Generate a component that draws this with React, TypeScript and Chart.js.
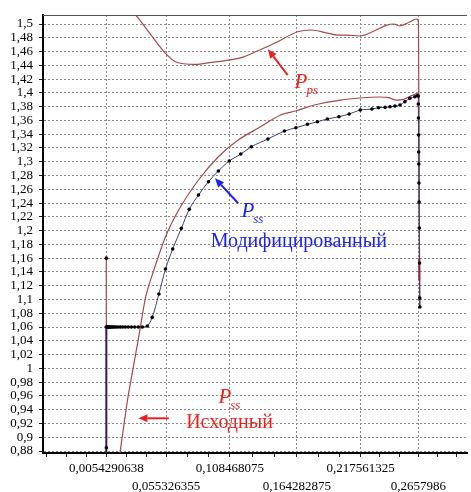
import React, { useEffect, useRef } from "react";
import { Chart, registerables } from "chart.js";

Chart.register(...registerables);

// ---------- data ----------
const xMajorTicks = [0.0054290638, 0.055326355, 0.108468075, 0.164282875, 0.217561325, 0.2657986];
const xTickLabels = ["0,0054290638", "0,055326355", "0,108468075", "0,164282875", "0,217561325", "0,2657986"];
const yTickValues = [
  0.88, 0.9, 0.92, 0.94, 0.96, 0.98, 1.0, 1.02, 1.04, 1.06, 1.08, 1.1, 1.12, 1.14, 1.16, 1.18, 1.2,
  1.22, 1.24, 1.26, 1.28, 1.3, 1.32, 1.34, 1.36, 1.38, 1.4, 1.42, 1.44, 1.46, 1.48, 1.5,
];

// P_ps curve
const ppsX = [0.0300, 0.0370, 0.0437, 0.0548, 0.0631, 0.0796, 0.0933, 0.1071, 0.1181, 0.1319, 0.1484, 0.1650, 0.1760, 0.1898, 0.1981, 0.2064, 0.2171, 0.2286, 0.2394, 0.2452, 0.2501, 0.2584, 0.2642, 0.2658, 0.2668];
const ppsY = [1.513, 1.4974, 1.4816, 1.4575, 1.4453, 1.4415, 1.4444, 1.4477, 1.4511, 1.4612, 1.4743, 1.4888, 1.4913, 1.4869, 1.4840, 1.4840, 1.4826, 1.4898, 1.4985, 1.5, 1.4971, 1.5029, 1.5073, 1.503, 1.088];

// P_ss initial (Исходный)
const pssInitX = [0.0160, 0.0168, 0.0231, 0.0280, 0.0330, 0.0383, 0.0451, 0.0548, 0.0658, 0.0823, 0.0989, 0.1154, 0.1319, 0.1509, 0.1633, 0.1790, 0.2005, 0.2171, 0.2336, 0.2410, 0.2476, 0.2534, 0.2600, 0.2650, 0.2660, 0.2668];
const pssInitY = [0.868, 0.8771, 0.954, 1.0024, 1.0513, 1.104, 1.1428, 1.1912, 1.2299, 1.2735, 1.3073, 1.3316, 1.3486, 1.3679, 1.3737, 1.3824, 1.3896, 1.3926, 1.3940, 1.3930, 1.3895, 1.3905, 1.3960, 1.3990, 1.3950, 1.088];

// P_ss modified (Модифицированный)
const pssModX = [
  0.00543, 0.0058, 0.0062, 0.0067, 0.0072, 0.0078, 0.0085, 0.0093, 0.0102, 0.0112, 0.0124, 0.0138,
  0.0154, 0.0172, 0.0192, 0.0214, 0.0238, 0.0264, 0.0292, 0.0322, 0.0355, 0.0396,
  0.0437, 0.0493, 0.0548, 0.0608, 0.0680, 0.0746, 0.0823, 0.0906, 0.0989, 0.1080, 0.1176, 0.1264,
  0.1402, 0.1540, 0.1636, 0.1732, 0.1815, 0.1898, 0.1995, 0.2080, 0.2173, 0.2270, 0.2325, 0.2380,
  0.2421, 0.2462, 0.2504, 0.2545, 0.2586, 0.2628, 0.2648, 0.2656,
  0.2657, 0.2658, 0.2659, 0.2660, 0.2661, 0.2662, 0.2663, 0.2665, 0.2667, 0.2669, 0.2670,
];
const pssModY = [
  1.06, 1.06, 1.06, 1.06, 1.06, 1.06, 1.06, 1.06, 1.06, 1.06, 1.06, 1.06,
  1.06, 1.06, 1.06, 1.06, 1.06, 1.06, 1.06, 1.06, 1.06, 1.0615,
  1.0741, 1.108, 1.1443, 1.1733, 1.2033, 1.2309, 1.2517, 1.271, 1.2866, 1.3011, 1.3112, 1.3218,
  1.333, 1.3446, 1.3494, 1.3544, 1.3581, 1.3621, 1.3654, 1.3693, 1.3751, 1.3766, 1.3785, 1.3790,
  1.3799, 1.3809, 1.3824, 1.3872, 1.3921, 1.3944, 1.3959, 1.3955,
  1.3838, 1.3635, 1.3388, 1.3141, 1.2967, 1.2691, 1.2415, 1.2038, 1.1530, 1.1022, 1.089,
];

// vertical start segments at x = 0.0054290638
const startLowX = [0.0054290638, 0.0054290638, 0.0054290638];
const startLowY = [0.8771, 0.8848, 1.06];
const startHighX = [0.0054290638, 0.0054290638];
const startHighY = [1.06, 1.16];

// red segment on the final drop
const dropRedX = [0.2664, 0.2665];
const dropRedY = [1.16, 1.128];

const toPts = (xs: number[], ys: number[]) => xs.map((x, i) => ({ x, y: ys[i] }));

// ---------- annotations (data coordinates) ----------
const RED = "#e8231f";
const BLUE = "#1d22f0";
const labelTexts = [
  { main: "P", sub: "ps", x: 0.1625, y: 1.4071, color: RED },
  { main: "P", sub: "ss", x: 0.1181, y: 1.2202, color: BLUE },
  { main: "P", sub: "ss", x: 0.0989, y: 0.9493, color: RED },
];
const plainTexts = [
  { text: "Модифицированный", x: 0.0925, y: 1.1762, color: BLUE },
  { text: "Исходный", x: 0.0720, y: 0.9134, color: RED },
];
const arrows = [
  { x1: 0.1567, y1: 1.4259, x2: 0.1402, y2: 1.4633, color: RED },
  { x1: 0.1154, y1: 1.2397, x2: 0.0961, y2: 1.276, color: BLUE },
  { x1: 0.0575, y1: 0.9275, x2: 0.0322, y2: 0.9275, color: RED },
];

const SERIF = "'Liberation Serif', 'Times New Roman', serif";

const annotationPlugin = {
  id: "annot",
  afterDatasetsDraw(chart: any) {
    const { ctx, scales, chartArea } = chart;
    const xs = scales.x;
    const ys = scales.y;
    ctx.save();
    // top frame line
    ctx.strokeStyle = "#555";
    ctx.lineWidth = 1;
    ctx.beginPath();
    ctx.moveTo(chartArea.left, chartArea.top + 0.5);
    ctx.lineTo(chartArea.right, chartArea.top + 0.5);
    ctx.stroke();

    ctx.textBaseline = "alphabetic";
    ctx.textAlign = "left";
    for (const t of labelTexts) {
      const px = xs.getPixelForValue(t.x);
      const py = ys.getPixelForValue(t.y);
      ctx.fillStyle = t.color;
      ctx.font = `italic 21px ${SERIF}`;
      ctx.fillText(t.main, px, py);
      const w = ctx.measureText(t.main).width;
      ctx.font = `italic 13px ${SERIF}`;
      ctx.fillText(t.sub, px + w - 1, py + 6);
    }
    for (const t of plainTexts) {
      ctx.fillStyle = t.color;
      ctx.font = `20px ${SERIF}`;
      ctx.fillText(t.text, xs.getPixelForValue(t.x), ys.getPixelForValue(t.y));
    }
    for (const a of arrows) {
      const x1 = xs.getPixelForValue(a.x1);
      const y1 = ys.getPixelForValue(a.y1);
      const x2 = xs.getPixelForValue(a.x2);
      const y2 = ys.getPixelForValue(a.y2);
      const ang = Math.atan2(y2 - y1, x2 - x1);
      const hl = 9;
      const hw = 4;
      const bx = x2 - hl * Math.cos(ang);
      const by = y2 - hl * Math.sin(ang);
      ctx.strokeStyle = a.color;
      ctx.fillStyle = a.color;
      ctx.lineWidth = 2;
      ctx.beginPath();
      ctx.moveTo(x1, y1);
      ctx.lineTo(bx, by);
      ctx.stroke();
      ctx.beginPath();
      ctx.moveTo(x2, y2);
      ctx.lineTo(bx + hw * Math.sin(ang), by - hw * Math.cos(ang));
      ctx.lineTo(bx - hw * Math.sin(ang), by + hw * Math.cos(ang));
      ctx.closePath();
      ctx.fill();
    }
    ctx.restore();
  },
};

// minor tick positions (3 subdivisions per major interval)
function buildXTicks(min: number, max: number) {
  const out: number[] = [];
  const m = xMajorTicks;
  const first = m[1] - m[0];
  const last = m[m.length - 1] - m[m.length - 2];
  for (let k = 6; k >= 1; k--) out.push(m[0] - (k * first) / 3);
  for (let i = 0; i < m.length - 1; i++) {
    const d = m[i + 1] - m[i];
    out.push(m[i], m[i] + d / 3, m[i] + (2 * d) / 3);
  }
  out.push(m[m.length - 1]);
  for (let k = 1; k <= 6; k++) out.push(m[m.length - 1] + (k * last) / 3);
  return out.filter((v) => v >= min && v <= max);
}
const majorIndex = (v: number) => xMajorTicks.findIndex((m) => Math.abs(m - v) < 1e-9);

export default function App() {
  const ref = useRef<HTMLCanvasElement | null>(null);
  useEffect(() => {
    document.body.style.margin = "0";
    const canvas = ref.current;
    if (!canvas) return;
    const chart = new Chart(canvas, {
      type: "scatter",
      data: {
        datasets: [
          {
            data: toPts(pssModX, pssModY),
            showLine: true,
            borderColor: "#3c3c80",
            borderWidth: 1,
            pointRadius: 1.8,
            pointBackgroundColor: "#000",
            pointBorderWidth: 0,
            cubicInterpolationMode: "monotone",
          },
          {
            data: toPts(dropRedX, dropRedY),
            showLine: true,
            borderColor: "#e02020",
            borderWidth: 2,
            pointRadius: 0,
          },
          {
            data: toPts(startLowX, startLowY),
            showLine: true,
            borderColor: "#3a1458",
            borderWidth: 2,
            pointRadius: [0, 1.8, 0],
            pointBackgroundColor: "#000",
            pointBorderWidth: 0,
          },
          {
            data: toPts(startHighX, startHighY),
            showLine: true,
            borderColor: "#a8474f",
            borderWidth: 1.2,
            pointRadius: [0, 1.8],
            pointBackgroundColor: "#000",
            pointBorderWidth: 0,
          },
          {
            data: toPts(pssInitX, pssInitY),
            showLine: true,
            borderColor: "#a8474f",
            borderWidth: 1.2,
            pointRadius: 0,
            cubicInterpolationMode: "monotone",
          },
          {
            data: toPts(ppsX, ppsY),
            showLine: true,
            borderColor: "#a8474f",
            borderWidth: 1.2,
            pointRadius: 0,
            cubicInterpolationMode: "monotone",
          },
        ],
      },
      options: {
        animation: false,
        responsive: true,
        maintainAspectRatio: false,
        layout: { padding: { top: 15, right: 0, left: 0, bottom: 0 } },
        plugins: { legend: { display: false }, tooltip: { enabled: false } },
        scales: {
          x: {
            type: "linear",
            min: -0.0474,
            max: 0.3063,
            afterFit(scale: any) {
              scale.height = 39;
            },
            afterBuildTicks(scale: any) {
              scale.ticks = buildXTicks(scale.min, scale.max).map((v) => ({ value: v }));
            },
            ticks: {
              autoSkip: false,
              maxRotation: 0,
              minRotation: 0,
              padding: 3,
              color: "#000",
              font: { family: SERIF, size: 13, lineHeight: 1.35 },
              callback(value: any) {
                const i = majorIndex(Number(value));
                if (i < 0) return "";
                return i % 2 === 0 ? [xTickLabels[i], ""] : ["", xTickLabels[i]];
              },
            },
            grid: {
              color: (c: any) => (c.tick && majorIndex(c.tick.value) >= 0 ? "#8a8a8a" : "rgba(0,0,0,0)"),
              lineWidth: 1,
              tickColor: "#222",
              tickLength: 4,
              tickBorderDash: [],
            },
            border: { display: true, color: "#000", width: 2, dash: [2, 2] },
          },
          y: {
            type: "linear",
            min: 0.8771,
            max: 1.5131,
            afterFit(scale: any) {
              scale.width = 43;
            },
            afterBuildTicks(scale: any) {
              scale.ticks = yTickValues.map((v) => ({ value: v }));
            },
            ticks: {
              autoSkip: false,
              padding: 6,
              color: "#000",
              font: { family: SERIF, size: 13 },
              callback(value: any) {
                return String(Number(Number(value).toFixed(2))).replace(".", ",");
              },
            },
            grid: {
              color: "#8a8a8a",
              lineWidth: 1,
              tickColor: "#222",
              tickLength: 4,
              tickBorderDash: [],
            },
            border: { display: true, color: "#000", width: 2, dash: [2, 2] },
          },
        },
      },
      plugins: [annotationPlugin],
    });
    return () => chart.destroy();
  }, []);
  return (
    <div style={{ position: "relative", width: 471, height: 492, background: "#fff" }}>
      <canvas ref={ref} />
    </div>
  );
}
